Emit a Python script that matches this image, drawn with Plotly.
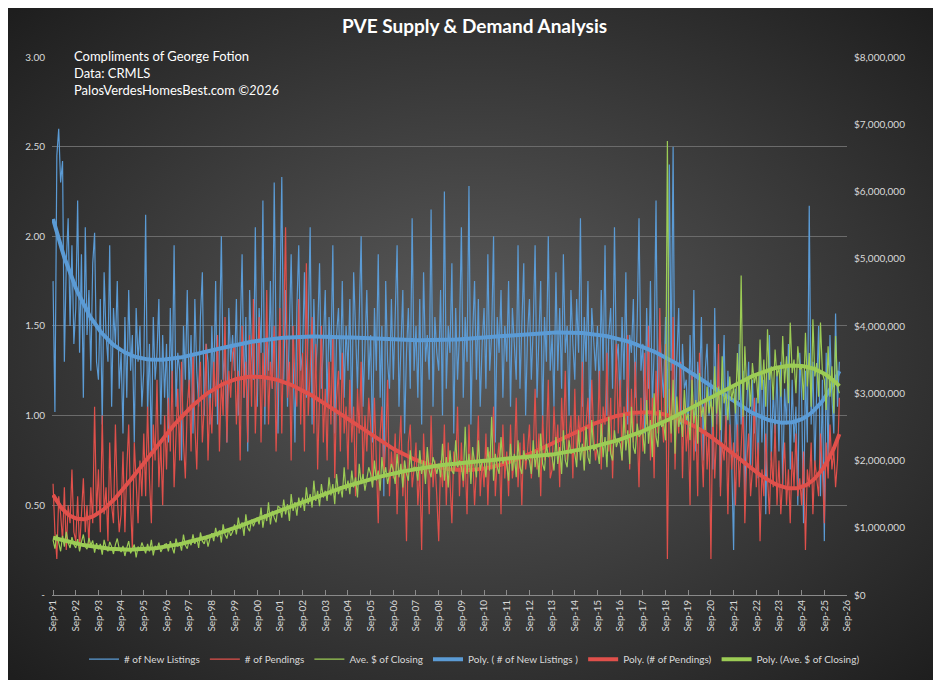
import numpy as np
import pandas as pd
import base64
import plotly.graph_objects as go

start_month = "1991-09-01"
listings = [
1.75,1.02,2.45,2.60,2.30,2.42,1.30,1.85,2.10,1.50,1.95,1.40,
1.60,2.20,1.35,1.90,1.10,2.05,1.45,1.70,1.25,1.85,2.02,1.30,
1.20,1.65,0.95,1.80,1.45,1.30,1.95,1.05,1.60,1.40,1.75,1.15,
1.35,0.90,1.55,1.10,1.70,1.25,1.45,0.85,1.60,1.30,1.50,1.05,
1.25,2.12,1.00,1.40,0.80,1.55,1.20,1.35,1.65,0.95,1.45,1.10,
1.40,0.85,1.60,1.15,1.95,1.05,1.35,1.25,0.75,1.50,1.20,1.70,
1.10,1.45,0.90,1.65,1.25,1.05,1.55,1.80,1.00,1.40,1.30,0.95,
1.50,1.15,1.75,0.95,1.40,2.00,1.20,1.35,0.85,1.60,1.30,1.45,
1.25,1.65,1.00,1.45,1.90,1.10,1.55,0.80,1.70,1.35,1.20,2.05,
1.05,1.60,1.35,2.20,0.95,1.50,1.25,1.75,1.15,2.30,1.40,0.90,
1.55,2.33,1.20,1.70,1.05,1.45,1.90,1.30,0.85,1.60,1.95,1.25,
1.35,1.80,1.10,1.50,2.05,0.95,1.65,1.25,1.45,1.85,1.15,1.40,
1.70,1.05,1.55,1.30,1.95,0.90,1.45,1.60,1.20,1.75,1.10,1.50,
1.25,1.65,0.95,1.80,1.40,1.15,1.55,2.00,1.05,1.35,1.70,1.20,
1.45,0.85,1.60,1.25,1.90,1.10,1.50,0.55,1.75,1.30,1.15,1.65,
1.20,1.55,1.95,1.05,1.40,1.70,0.90,1.35,1.60,1.15,2.10,1.25,
1.50,1.10,1.65,0.95,1.80,1.30,1.45,1.20,2.15,1.05,1.55,1.35,
1.25,1.70,1.00,2.25,1.15,1.50,1.35,1.85,0.90,1.60,1.20,1.45,
2.05,1.10,1.55,1.30,2.28,0.95,1.45,1.75,1.20,1.65,1.05,1.40,
1.60,1.15,1.90,1.25,1.45,2.00,0.85,1.55,1.35,1.70,1.10,1.50,
1.30,1.75,1.05,1.60,1.40,1.20,1.95,1.15,1.50,1.85,1.00,1.45,
1.65,1.20,1.50,1.95,1.10,1.40,1.75,0.95,1.55,1.30,2.00,1.25,
1.45,1.05,1.80,1.25,1.60,1.15,1.90,1.35,1.50,1.00,1.70,1.40,
1.20,1.65,1.35,2.10,1.05,1.55,1.30,1.75,0.90,1.60,1.45,1.25,
1.50,1.10,1.70,1.25,1.95,1.00,1.45,1.60,1.15,2.05,1.30,1.40,
1.05,1.55,1.20,1.80,0.95,1.45,1.35,1.65,1.10,1.50,2.10,1.25,
1.40,0.90,1.60,1.15,1.75,1.05,1.35,2.20,0.95,1.50,1.25,1.10,
1.55,1.00,2.40,1.25,2.50,0.85,1.30,1.60,0.95,1.40,1.15,1.20,
0.90,1.45,1.05,1.70,0.80,1.30,1.15,1.55,0.75,1.25,1.40,1.00,
1.20,0.70,1.60,0.95,1.35,0.60,1.10,1.45,0.85,1.25,1.00,0.75,
0.25,1.15,0.80,1.40,0.95,1.25,0.55,1.05,1.30,0.70,1.20,0.90,
1.10,0.65,1.35,0.85,1.20,0.45,1.05,1.45,0.75,1.15,0.90,1.25,
0.80,1.30,0.60,1.15,0.95,1.40,0.70,1.20,0.85,1.05,0.50,1.35,
1.10,0.40,1.25,0.85,2.17,0.95,1.30,0.70,1.15,1.50,0.55,1.20,
0.30,1.35,0.75,1.45,1.10,0.90,1.57,1.05,1.30]

pendings = [
0.62,0.35,0.20,0.55,0.45,0.30,0.60,0.25,0.50,0.40,0.70,0.35,
0.30,0.55,0.25,0.45,0.65,0.35,0.50,0.28,0.60,0.40,1.05,0.45,
0.70,0.35,1.00,0.45,0.60,0.30,0.85,0.50,0.40,0.95,0.55,0.35,
0.45,0.80,0.35,0.70,0.95,0.50,0.25,0.85,0.60,0.40,0.75,0.55,
0.90,0.55,1.05,0.65,0.40,0.95,0.75,1.20,0.60,0.85,0.50,1.00,
0.70,1.10,0.80,1.25,0.60,0.95,1.15,0.75,1.30,0.85,0.65,1.05,
1.20,0.80,1.35,0.95,0.70,1.15,1.30,0.85,1.05,1.40,0.75,1.10,
0.90,1.30,1.05,1.45,0.80,1.20,1.00,1.55,0.85,1.25,1.10,1.35,
1.40,0.95,1.25,0.75,1.50,1.10,1.30,0.85,1.45,1.05,1.65,0.90,
1.20,1.55,0.85,1.35,1.05,1.70,0.95,1.30,1.15,1.50,0.80,1.25,
1.60,0.90,1.40,2.05,1.10,1.30,0.75,1.50,1.20,1.05,1.65,0.95,
1.35,0.80,1.85,1.00,1.25,1.55,0.90,1.40,0.70,1.20,1.50,0.85,
1.15,0.75,1.30,0.95,1.45,0.65,1.10,1.25,0.80,1.35,0.90,1.05,
0.70,1.20,0.85,1.05,0.55,1.15,0.90,1.30,0.65,1.00,0.80,1.10,
0.95,0.60,1.10,0.75,0.40,0.90,1.05,0.65,0.85,1.20,0.55,0.80,
0.65,0.90,0.45,0.80,1.00,0.55,0.75,0.30,0.85,0.95,0.60,0.70,
0.85,0.50,0.70,0.25,0.90,0.65,0.80,0.45,1.00,0.60,0.75,0.55,
0.30,0.75,0.60,0.95,0.50,0.85,0.65,0.40,0.80,0.70,1.05,0.55,
0.85,0.60,0.75,0.45,0.95,0.65,0.80,0.50,0.70,1.00,0.55,0.75,
0.60,0.90,0.50,0.80,0.70,1.05,0.55,0.75,0.85,0.45,0.95,0.65,
0.80,0.55,0.95,0.65,0.75,1.10,0.60,0.85,0.50,0.90,0.70,0.80,
0.95,0.65,0.80,1.15,0.70,0.90,0.55,1.00,0.75,0.85,1.20,0.65,
0.70,1.05,0.80,0.95,0.60,1.10,0.85,1.25,0.75,0.90,1.00,0.65,
1.15,0.75,1.00,0.85,1.30,0.70,0.95,1.10,0.80,1.20,0.90,0.75,
0.85,1.25,0.70,1.05,0.95,1.35,0.80,1.10,0.65,1.00,1.40,0.90,
1.20,0.75,1.05,0.90,1.45,0.70,1.15,0.85,1.30,0.95,0.60,1.10,
0.80,1.35,0.95,1.50,0.75,1.10,0.65,1.25,0.90,1.60,1.00,0.85,
1.40,0.20,1.15,0.85,1.55,0.70,1.05,0.90,1.30,0.65,1.10,0.80,
0.95,0.50,1.25,0.75,1.00,0.55,1.35,0.85,0.60,1.10,0.70,0.90,
0.20,1.05,0.65,0.90,1.40,0.55,0.85,0.75,1.00,0.45,0.95,0.70,
0.85,0.50,0.95,0.60,0.80,1.05,0.40,0.75,0.90,0.55,0.70,1.10,
0.60,0.85,0.30,0.70,0.55,0.90,0.65,0.45,0.80,0.60,0.95,0.50,
0.75,0.45,0.65,0.85,0.50,0.70,0.40,0.80,0.60,0.90,0.55,0.65,
0.50,0.80,0.25,0.70,0.60,0.85,0.45,0.75,0.65,0.55,0.90,0.70,
0.40,0.85,0.65,0.95,0.70,0.80,0.60,0.75,1.10]

closing_k = [
820,690,900,760,650,880,720,940,780,700,860,750,
700,830,650,790,900,720,680,850,740,810,630,770,
680,760,600,820,700,650,790,720,610,750,840,690,
640,730,580,700,800,620,690,750,560,720,660,780,
700,620,760,650,820,590,730,680,780,640,700,750,
760,650,800,700,620,840,720,780,660,900,740,690,
820,740,900,760,850,700,930,800,760,880,720,840,
920,800,1000,860,960,780,1050,900,840,980,880,940,
1050,900,1150,980,1080,880,1200,1000,950,1120,1020,1100,
1150,1050,1300,1000,1200,1100,1380,1050,1250,1150,1080,1320,
1300,1150,1420,1200,1350,1100,1500,1250,1380,1180,1450,1300,
1450,1250,1600,1350,1500,1300,1700,1400,1550,1320,1650,1450,
1550,1400,1750,1480,1650,1350,1800,1500,1620,1450,1900,1550,
1700,1500,1850,1600,1750,1450,1950,1650,1800,1550,1700,1900,
1800,1600,2000,1700,1850,1550,2050,1750,1900,1650,1800,1950,
1850,1650,2100,1750,1950,1600,2000,1800,1700,2150,1850,1900,
1900,1700,2150,1800,2000,1650,2200,1850,1750,2050,1950,1800,
1950,1750,2250,1700,2050,1600,2150,1850,1800,2300,1900,2000,
1900,1700,2500,1800,2100,1650,2200,1950,1750,2300,1850,2000,
2000,1750,2200,1850,2650,1700,2100,1900,1800,2350,1950,2050,
1950,1700,2250,1850,2100,1750,2300,1900,1800,2150,2000,2050,
2000,1800,2300,1900,2150,1750,2400,1950,1850,2250,2050,2100,
2050,1850,2350,1950,2200,1800,2450,2000,1900,2300,2100,2150,
2100,1900,2450,2000,2250,1850,2500,2050,1950,2600,2150,2200,
2150,1950,2550,2050,2350,1900,2650,2100,2000,2450,2200,2300,
2250,2000,2700,2150,2450,1950,2800,2200,2100,2550,2350,2400,
2400,2100,2900,2250,2600,2050,3000,2350,2200,2750,2500,2550,
2300,6750,2800,2400,3200,2100,2950,2500,2700,2350,3050,2600,
2700,2300,3200,2550,2900,2250,3300,2650,2800,2450,3100,2700,
2900,2500,3400,2700,3100,2450,3550,2850,3000,2600,3250,2900,
3100,2700,3600,2900,4750,2650,3700,3050,3250,2800,3450,3150,
3300,2850,3800,3050,3500,2800,3950,3200,3400,2900,3650,3250,
3400,2950,3850,3150,3550,2850,4050,3300,3500,3000,3700,3350,
3400,2900,3900,3100,3600,2800,4100,3250,3450,2950,4050,3300,
3200,2750,3700,2950,3400,2700,3850,3100,3000]

left_ticks = [0, 0.5, 1.0, 1.5, 2.0, 2.5, 3.0]
left_tick_text = ["-", "0.50", "1.00", "1.50", "2.00", "2.50", "3.00"]

dates = pd.date_range(start_month, periods=len(listings), freq="MS")
closing = np.array(closing_k) * 1000.0

def poly_trend(y, deg=6):
    t = np.linspace(-1, 1, len(y))
    return np.polyval(np.polyfit(t, y, deg), t)

BLUE, RED, GREEN = "#5b9bd5", "#e0504b", "#9ccc55"
fig = go.Figure()
fig.add_trace(go.Scatter(x=dates, y=listings, mode="lines", line=dict(color=BLUE, width=1.2), name="# of New Listings"))
fig.add_trace(go.Scatter(x=dates, y=pendings, mode="lines", line=dict(color=RED, width=1.2), name="# of Pendings"))
fig.add_trace(go.Scatter(x=dates, y=closing, mode="lines", line=dict(color=GREEN, width=1.2), name="Ave. $ of Closing", yaxis="y2"))
fig.add_trace(go.Scatter(x=dates, y=poly_trend(np.array(listings)), mode="lines", line=dict(color=BLUE, width=4), name="Poly. ( # of New Listings )"))
fig.add_trace(go.Scatter(x=dates, y=poly_trend(np.array(pendings)), mode="lines", line=dict(color=RED, width=4), name="Poly. (# of Pendings)"))
fig.add_trace(go.Scatter(x=dates, y=poly_trend(closing), mode="lines", line=dict(color=GREEN, width=4), name="Poly. (Ave. $ of Closing)", yaxis="y2"))

W, H, L, R, T, B = 933, 672, 44, 94, 49, 85
pw, ph = W - L - R, H - T - B
svg = ('<svg xmlns="http://www.w3.org/2000/svg" width="941" height="680">'
       '<defs><radialGradient id="g" cx="50%" cy="50%" r="70%">'
       '<stop offset="0" stop-color="#5c5c5c"/><stop offset="1" stop-color="#1e1e1e"/>'
       '</radialGradient></defs><rect width="941" height="680" fill="url(#g)"/></svg>')
src = "data:image/svg+xml;base64," + base64.b64encode(svg.encode()).decode()

tick_dates = pd.date_range("1991-09-01", "2026-09-01", freq="12MS")
fig.update_layout(
    width=W, height=H, margin=dict(l=L, r=R, t=T, b=B, autoexpand=False),
    paper_bgcolor="#1e1e1e", plot_bgcolor="rgba(0,0,0,0)",
    font=dict(family="Lato, Liberation Sans, sans-serif", color="#d9d9d9", size=11),
    images=[dict(source=src, xref="paper", yref="paper", x=-L / pw, y=1 + T / ph,
                 sizex=W / pw, sizey=H / ph, sizing="stretch", layer="below", xanchor="left", yanchor="top")],
    title=dict(text="<b>PVE Supply & Demand Analysis</b>", x=0.5, xanchor="center", y=0.972, yanchor="middle",
               font=dict(size=19, color="white")),
    xaxis=dict(type="date", range=["1991-08-15", "2026-09-01"], tickvals=tick_dates, tickformat="%b-%y",
               tickangle=-90, showgrid=False, showline=True, linecolor="#8a8a8a", ticks="inside",
               tickcolor="#8a8a8a", ticklen=5, automargin=False, tickfont=dict(size=10, color="#d9d9d9")),
    yaxis=dict(range=[-0.0005, 3], tickvals=left_ticks, ticktext=left_tick_text, gridcolor="#6b6b6b",
               zeroline=False, automargin=False, ticklabelstandoff=6, tickfont=dict(size=10)),
    yaxis2=dict(range=[0, 8e6], dtick=1e6, tickformat="$,.0f", overlaying="y", side="right",
                showgrid=False, zeroline=False, automargin=False, ticklabelstandoff=6, tickfont=dict(size=10)),
    legend=dict(orientation="h", x=0.5, xanchor="center", xref="container", yref="container",
                y=0.031, yanchor="middle", font=dict(size=10, color="#d9d9d9"), bgcolor="rgba(0,0,0,0)"),
    annotations=[dict(xref="paper", yref="paper", x=0.025, y=1.02, xanchor="left", yanchor="top",
                      align="left", showarrow=False,
                      text="Compliments of George Fotion<br>Data: CRMLS<br>PalosVerdesHomesBest.com <i>©2026</i>",
                      font=dict(size=13, color="white"))],
)
fig.write_html("out.html")
